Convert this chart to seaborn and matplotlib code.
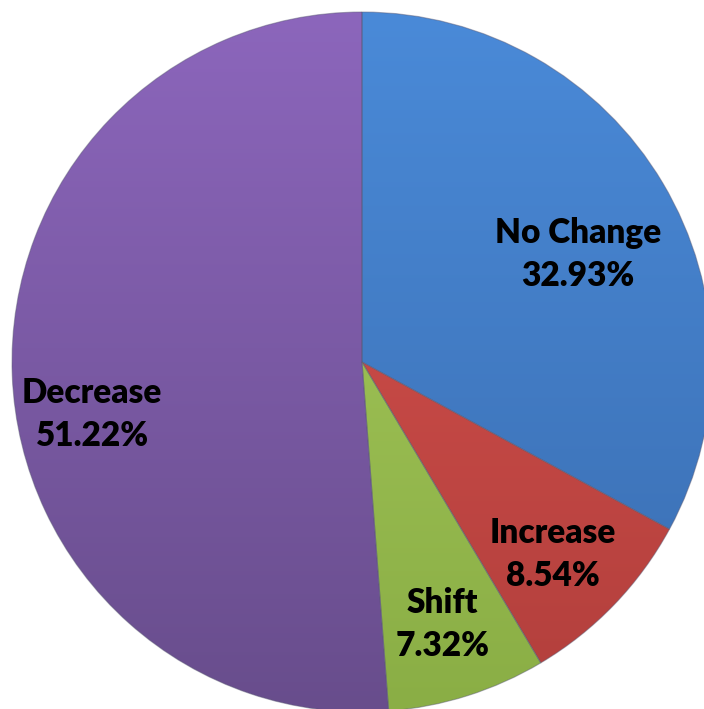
import numpy as np
import matplotlib
matplotlib.use("Agg")
import matplotlib.pyplot as plt
import seaborn as sns
from matplotlib.colors import LinearSegmentedColormap

categories = ["No Change", "Increase", "Shift", "Decrease"]
values = [32.93, 8.54, 7.32, 51.22]
pct_labels = ["32.93%", "8.54%", "7.32%", "51.22%"]
top_colors = ["#4A8AD8", "#D9534F", "#A9CC5E", "#8C66BC"]
bottom_colors = ["#3A6DB0", "#B23F3C", "#8AAE45", "#684D8C"]
label_pos = [(0.617, 0.306), (0.546, -0.551), (0.229, -0.751), (-0.771, -0.151)]

sns.set_theme(style="white")
plt.rcParams['font.family'] = ['Lato', 'DejaVu Sans']

fig = plt.figure(figsize=(7.04, 7.09), dpi=100)
ax = fig.add_axes([12/704, -3/709, 700/704, 700/709])
ax.set_xlim(-1, 1)
ax.set_ylim(-1, 1)
ax.set_aspect('equal')
ax.axis('off')

wedges, _ = ax.pie(values, startangle=90, counterclock=False, radius=1,
                   colors=top_colors,
                   wedgeprops=dict(edgecolor=(0.35, 0.35, 0.45, 0.45), linewidth=0.8))

grad = np.linspace(1, 0, 256).reshape(-1, 1)
for w, ct, cb in zip(wedges, top_colors, bottom_colors):
    cmap = LinearSegmentedColormap.from_list("g", [cb, ct])
    im = ax.imshow(grad, cmap=cmap, extent=(-1, 1, -1, 1), origin='upper',
                   aspect='auto', zorder=w.get_zorder() + 0.1, vmin=0, vmax=1)
    im.set_clip_path(w)
    w.set_zorder(w.get_zorder() + 0.2)
    w.set_facecolor('none')

ax.set_xlim(-1, 1)
ax.set_ylim(-1, 1)

for (x, y), c, p in zip(label_pos, categories, pct_labels):
    ax.text(x, y, f"{c}\n{p}", ha='center', va='center', fontsize=24,
            fontweight='heavy', color='black', linespacing=1.42, zorder=10)

fig.savefig("out.png", dpi=100)
